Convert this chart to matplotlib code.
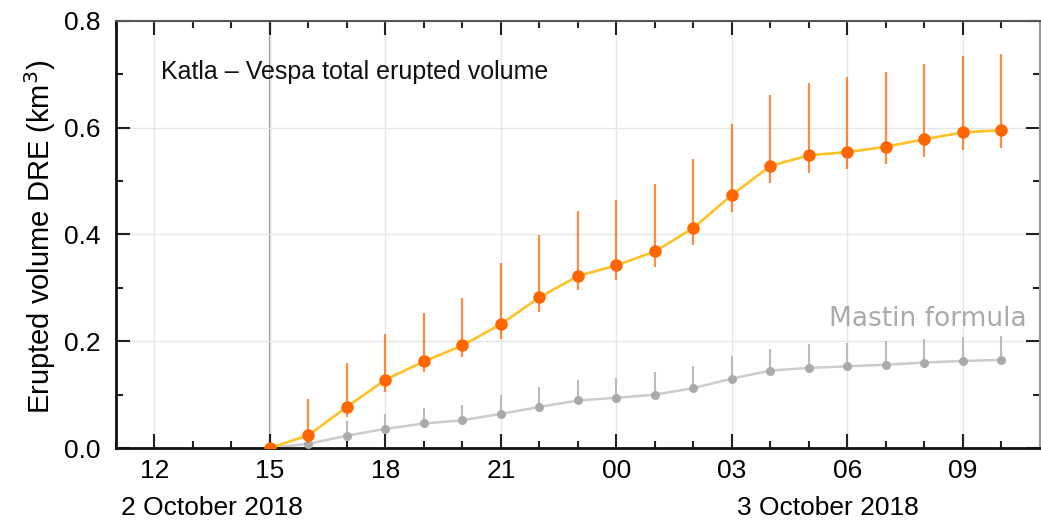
import matplotlib
matplotlib.use("Agg")
import matplotlib.pyplot as plt
from matplotlib.ticker import MultipleLocator, FixedLocator, FixedFormatter

# heures depuis le 2 octobre 2018 00:00
hours = [15, 16, 17, 18, 19, 20, 21, 22, 23, 24, 25, 26, 27, 28, 29, 30, 31, 32, 33, 34]

vespa = [0.0, 0.024, 0.077, 0.128, 0.162, 0.192, 0.232, 0.282, 0.322, 0.342,
         0.368, 0.412, 0.474, 0.528, 0.548, 0.554, 0.564, 0.578, 0.591, 0.595]
vespa_hi = [0.0, 0.092, 0.159, 0.214, 0.252, 0.281, 0.347, 0.398, 0.444, 0.464,
            0.495, 0.542, 0.606, 0.661, 0.684, 0.694, 0.704, 0.719, 0.734, 0.738]
vespa_lo = [0.0, 0.009, 0.058, 0.105, 0.142, 0.171, 0.205, 0.255, 0.295, 0.314,
            0.339, 0.381, 0.442, 0.496, 0.515, 0.522, 0.531, 0.545, 0.558, 0.562]

mastin = [0.0, 0.008, 0.023, 0.036, 0.046, 0.052, 0.064, 0.077, 0.089, 0.094,
          0.100, 0.112, 0.130, 0.145, 0.150, 0.153, 0.156, 0.160, 0.163, 0.165]
mastin_hi = [0.0, 0.030, 0.050, 0.064, 0.074, 0.081, 0.100, 0.114, 0.127, 0.132,
             0.142, 0.154, 0.172, 0.186, 0.194, 0.196, 0.200, 0.204, 0.207, 0.209]

tick_hours = [12, 15, 18, 21, 24, 27, 30, 33]
tick_labels = ["12", "15", "18", "21", "00", "03", "06", "09"]
day_labels = [(13.5, "2 October 2018"), (29.5, "3 October 2018")]
onset = 15

plt.rcParams["font.family"] = ["Liberation Sans", "DejaVu Sans"]

fig = plt.figure(figsize=(10.41, 5.24), dpi=100)
ax = fig.add_axes([0.1114, 0.145, 0.8876, 0.8155])

ax.set_xlim(11, 35)
ax.set_ylim(0, 0.8)
ax.grid(True, which="major", color="#e6e6e6", lw=1, zorder=0)
ax.axvline(onset, color="#8c8c8c", lw=1.6, zorder=1)

# Mastin (barres d'erreur vers le haut seulement)
m_err = [[0] * len(mastin), [h - v for h, v in zip(mastin_hi, mastin)]]
ax.errorbar(hours, mastin, yerr=m_err, fmt="none", ecolor="#bbbbbb", elinewidth=1.5, zorder=2)
ax.plot(hours, mastin, color="#cccccc", lw=1.8, zorder=2)
ax.plot(hours, mastin, "o", color="#aaaaaa", ms=6.5, mec="none", zorder=3)

# Vespa
v_err = [[v - lo for v, lo in zip(vespa, vespa_lo)], [hi - v for hi, v in zip(vespa_hi, vespa)]]
ax.errorbar(hours, vespa, yerr=v_err, fmt="none", ecolor="#ff6600", alpha=0.75,
            elinewidth=1.6, zorder=4)
ax.plot(hours, vespa, color="#ffc125", lw=1.9, zorder=5)
ax.plot(hours, vespa, "o", color="#ff6600", ms=9, mec="none", zorder=6)

ax.xaxis.set_major_locator(FixedLocator(tick_hours))
ax.xaxis.set_major_formatter(FixedFormatter(tick_labels))
ax.xaxis.set_minor_locator(MultipleLocator(1))
ax.yaxis.set_major_locator(MultipleLocator(0.2))
ax.yaxis.set_minor_locator(MultipleLocator(0.1))
ax.yaxis.set_major_formatter(matplotlib.ticker.FormatStrFormatter("%.1f"))

ax.tick_params(which="both", direction="in", top=True, right=True, width=1.5, color="#222222")
ax.tick_params(which="major", length=10)
ax.tick_params(which="minor", length=5)
ax.tick_params(axis="x", which="major", labelsize=19, pad=8)
ax.tick_params(axis="y", which="major", labelsize=19, pad=11)

for s in ["left", "bottom"]:
    ax.spines[s].set_color("#111111")
    ax.spines[s].set_linewidth(2)
ax.spines["top"].set_color("#555555")
ax.spines["top"].set_linewidth(1.5)
ax.spines["right"].set_color("#999999")
ax.spines["right"].set_linewidth(1.5)

for x, lab in day_labels:
    ax.text(x, -0.14, lab, transform=ax.get_xaxis_transform(), ha="center", va="center",
            fontsize=19)

ax.set_ylabel("Erupted volume DRE (km$^3$)", fontsize=21, va="center")
ax.yaxis.set_label_coords(-0.082, 0.494)

ax.text(0.0484, 0.88, "Katla \u2013 Vespa total erupted volume", transform=ax.transAxes,
        ha="left", va="center", fontsize=18, color="#111111")
ax.text(34.66, 0.242, "Mastin formula", ha="right", va="center", fontsize=19,
        color="#aaaaaa", family="DejaVu Sans")

fig.savefig("out.png", dpi=100)
